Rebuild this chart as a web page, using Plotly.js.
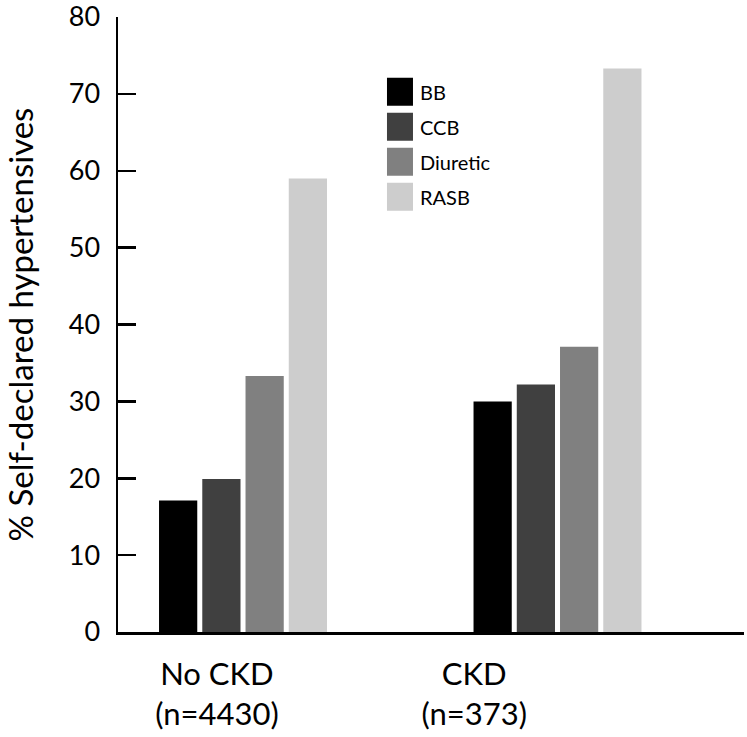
<!DOCTYPE html>
<html>
<head>
<meta charset="utf-8">
<script src="https://cdn.plot.ly/plotly-3.0.1.min.js"></script>
<style>
  body { margin: 0; background: #fff; }
  #plot { width: 747px; height: 737px; }
</style>
</head>
<body>
<div id="plot"></div>
<script>
// Groups on the x axis and their sample sizes
const groups = ["No CKD", "CKD"];
const groupN = [4430, 373];
// where the group labels sit (category index units); the original puts them left of the bars
const labelPos = [-0.083, 0.735];

// Drug classes (one series each) and % of self-declared hypertensives
const drugs = ["BB", "CCB", "Diuretic", "RASB"];
const bbValues = [17.1, 30.0];
const ccbValues = [19.9, 32.2];
const diureticValues = [33.3, 37.1];
const rasbValues = [59.0, 73.3];
const drugColors = ["#000000", "#404040", "#808080", "#cdcdcd"];

const yTicks = [0, 10, 20, 30, 40, 50, 60, 70, 80];

const FONT = "Lato, 'Open Sans', sans-serif";

let seriesValues = [bbValues, ccbValues, diureticValues, rasbValues];
let traces = drugs.map((name, i) => ({
    type: "bar",
    name: name,
    x: groups,
    y: seriesValues[i],
    legendgroup: name,
    marker: { color: drugColors[i], line: { width: 0 } },
    hoverinfo: "x+y+name"
}));

let layout = {
    width: 747,
    height: 737,
    margin: { l: 118, r: 3, t: 17, b: 105 },
    paper_bgcolor: "#ffffff",
    plot_bgcolor: "#ffffff",
    font: { family: FONT, color: "#000000" },
    barmode: "group",
    bargap: 0.45,
    bargroupgap: 0.116,
    showlegend: true,
    legend: {
        x: 0.4185,
        y: 0.91,
        xanchor: "left",
        yanchor: "top",
        font: { family: FONT, size: 20, color: "#000000" },
        traceorder: "grouped",
        tracegroupgap: 6,
        bgcolor: "rgba(0,0,0,0)"
    },
    xaxis: {
        type: "category",
        range: [-0.3975, 1.593],
        tickmode: "array",
        tickvals: labelPos,
        ticktext: groups.map((g, i) => g + "<br>(n=" + groupN[i] + ")"),
        tickfont: { family: FONT, size: 31, color: "#000000" },
        ticks: "",
        ticklabelstandoff: 13,
        showgrid: false,
        zeroline: false,
        showline: true,
        linecolor: "#000000",
        linewidth: 2.5,
        fixedrange: true
    },
    yaxis: {
        range: [0, 80],
        tickmode: "array",
        tickvals: yTicks,
        ticks: "inside",
        ticklen: 18,
        tickwidth: 2.5,
        tickcolor: "#000000",
        tickfont: { family: FONT, size: 27, color: "#000000" },
        ticklabelstandoff: 10,
        ticklabeloverflow: "allow",
        showgrid: false,
        zeroline: false,
        showline: true,
        linecolor: "#000000",
        linewidth: 2.5,
        title: {
            text: "% Self-declared hypertensives",
            font: { family: FONT, size: 33, color: "#000000" },
            standoff: 35
        },
        fixedrange: true
    }
};

Plotly.newPlot("plot", traces, layout, { displayModeBar: false, staticPlot: true }).then(function () {
    // bigger legend swatches, as in the original figure
    document.querySelectorAll("#plot .legendpoints path").forEach(function (p) {
        p.setAttribute("d", "M13,14H-13V-14H13Z");
    });
});
</script>
</body>
</html>
